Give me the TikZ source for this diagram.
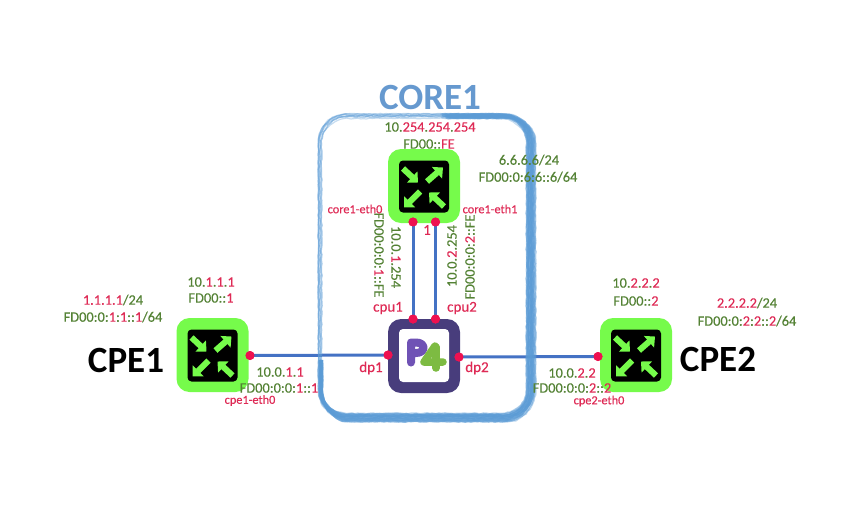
\documentclass[tikz,border=0pt]{standalone}
\usepackage{fontspec}
\setmainfont{Carlito}
\newfontfamily\lblfont[FakeBold=0.3]{Carlito}
\usetikzlibrary{arrows.meta,decorations.pathmorphing}
\definecolor{rgreen}{HTML}{76FB4B}
\definecolor{tgreen}{HTML}{548235}
\definecolor{tred}{HTML}{DE2A55}
\definecolor{dotred}{HTML}{EE1150}
\definecolor{linkblue}{HTML}{4472C4}
\definecolor{sketchblue}{HTML}{5B9BD5}
\definecolor{p4frame}{HTML}{483D7C}
\definecolor{p4purple}{HTML}{6F52B5}
\definecolor{p4green}{HTML}{7DBB42}
\definecolor{titleblue}{HTML}{6699CF}
\newcommand{\rd}[1]{\textcolor{tred}{#1}}
\tikzset{
  x=1pt,y=-1pt,
  routerbox/.style={draw=none,fill=rgreen,rounded corners=13pt,minimum width=72pt,minimum height=74pt,inner sep=0pt},
  blackbox/.style={draw=none,fill=black,rounded corners=4pt,minimum width=50pt,minimum height=52pt,inner sep=0pt},
  p4box/.style={draw=none,fill=p4frame,rounded corners=13pt,minimum width=72pt,minimum height=74pt,inner sep=0pt},
  p4inner/.style={draw=none,fill=white,rounded corners=4pt,minimum width=50pt,minimum height=53pt,inner sep=0pt},
  dotnode/.style={circle,fill=dotred,draw=none,minimum size=9pt,inner sep=0pt},
  link/.style={draw=linkblue,line width=3pt},
  addr/.style={text=tgreen,font=\lblfont\fontsize{14.4}{14}\selectfont,inner sep=0pt},
  ifname/.style={text=tred,font=\lblfont\fontsize{12.3}{12}\selectfont,inner sep=0pt},
  portname/.style={text=tred,font=\lblfont\fontsize{15}{14}\selectfont,inner sep=0pt},
  hostname/.style={text=black,font=\fontsize{37}{37}\selectfont\bfseries,inner sep=0pt},
  titlename/.style={text=titleblue,font=\fontsize{37}{37}\selectfont\bfseries,inner sep=0pt},
  rarrow/.style={draw=rgreen,fill=rgreen,line width=6pt,-{Triangle[length=8pt,width=15pt]}},
  sketch/.style={draw=sketchblue,decorate,decoration={random steps,segment length=3pt,amplitude=0.5pt}},
  rarrows/.pic={
    \draw[rarrow] (-21,-18) -- (-6,-4);
    \draw[rarrow] (3,-5) -- (19,-19);
    \draw[rarrow] (-4,5) -- (-20,21);
    \draw[rarrow] (20,20) -- (5,6);
  }
}
\begin{document}
\begin{tikzpicture}
\useasboundingbox (0,0) rectangle (866,507);
\pgfmathsetseed{17}
% routers and switch
\node[routerbox] (cpe1) at (212.5,355) {};
\node[blackbox] at (212.5,355.5) {};
\pic at (212.5,355.5) {rarrows};
\node[routerbox] (core) at (424,186) {};
\node[blackbox] at (424,186.5) {};
\pic at (424,186.5) {rarrows};
\node[routerbox] (cpe2) at (636,355) {};
\node[blackbox] at (636,355.5) {};
\pic at (636,355.5) {rarrows};
\node[p4box] (p4) at (424,356) {};
\node[p4inner] at (424,355.5) {};
% P4 logo
\draw[p4purple,line width=8pt,line cap=round,line join=round] (411,362.5) -- (411,342.5) -- (416,342.5) .. controls (426,342.5) and (426,353) .. (416,353) -- (412,353);
\draw[p4green,line width=7.5pt,line cap=round,line join=round] (435,346) -- (424,362) -- (443,362);
\draw[p4green,line width=7.5pt,line cap=round] (436,347) -- (436,368);
% ports
\node[dotnode] (c1) at (250,355.5) {};
\node[dotnode] (pl) at (388,355) {};
\node[dotnode] (pr) at (459,357) {};
\node[dotnode] (c2) at (598,356.5) {};
\node[dotnode] (ca) at (413,222) {};
\node[dotnode] (cb) at (435.5,222) {};
\node[dotnode] (pa) at (413,319) {};
\node[dotnode] (pb) at (435.5,319) {};
\draw[link] (c1.center) -- (pl.center);
\draw[link] (pr.center) -- (c2.center);
\draw[link] (ca.center) -- (pa.center);
\draw[link] (cb.center) -- (pb.center);
\node[dotnode] at (c1) {};
\node[dotnode] at (pl) {};
\node[dotnode] at (pr) {};
\node[dotnode] at (c2) {};
\node[dotnode] at (ca) {};
\node[dotnode] at (cb) {};
\node[dotnode] at (pa) {};
\node[dotnode] at (pb) {};
% hand-drawn frame: light loops all round
\foreach \l/\t/\r/\b/\w/\o in {
  318.5/115/530/417/1.5/.5, 320/114/531/418/1.3/.45, 318.5/117/528/416/1.5/.45,
  321.5/116/529/415/1.5/.55, 319/113.8/532/419/1.2/.35, 320.5/118.5/527/414/1.2/.35}
  \draw[sketch,line width=\w pt,opacity=\o]
    (\l+28,\t) -- (\r-28,\t) .. controls (\r-12,\t) and (\r,\t+12) .. (\r,\t+28)
    -- (\r,\b-28) .. controls (\r,\b-12) and (\r-12,\b) .. (\r-28,\b)
    -- (\l+28,\b) .. controls (\l+12,\b) and (\l,\b-12) .. (\l,\b-28)
    -- (\l,\t+28) .. controls (\l,\t+12) and (\l+12,\t) .. (\l+28,\t);
% heavier strokes down the right, along the bottom and over the top right
\foreach \dx/\dy/\w/\o in {0/0/3/.7, 1.5/1.5/3/.65, -1.5/-1.5/3/.7, 3.5/3/2.6/.55, .8/3.5/2.6/.6, -3/-3/2.6/.6, 2.5/-2/2.6/.6, -3.5/2/2.6/.55, 4.5/4/1.8/.4, -4.5/-4/1.8/.4}
  \draw[sketch,line width=\w pt,opacity=\o]
    (445+\dx,116+\dy*.5) -- (503+\dx,116+\dy*.5) .. controls (519+\dx,116+\dy*.5) and (531+\dx,128) .. (531+\dx,144)
    -- (531+\dx,389) .. controls (531+\dx,405) and (519+\dx,417.5+\dy) .. (503+\dx,417.5+\dy)
    -- (349,417.5+\dy) .. controls (333,417.5+\dy) and (321+\dx*.3,405) .. (321+\dx*.3,389) -- (321+\dx*.3,360);
% title and names
\node[titlename] (ttl) at (430,97) {CORE1};
\node[hostname] (n1) at (126,360) {CPE1};
\node[hostname] (n2) at (718,359) {CPE2};
% addresses
\node[addr] (a1) at (430,127) {10.\rd{254}.\rd{254}.\rd{254}};
\node[addr] (a2) at (429,144) {FD00::\rd{FE}};
\node[addr] (a3) at (529,160) {6.6.6.6/24};
\node[addr] (a4) at (528,177) {FD00:0:6:6::6/64};
\node[addr] (a5) at (211,282) {10.\rd{1}.\rd{1}.\rd{1}};
\node[addr] (a6) at (211,298) {FD00::\rd{1}};
\node[addr] (a7) at (113,300) {\rd{1.1.1.1}/24};
\node[addr] (a8) at (113,317) {FD00:0:\rd{1}:\rd{1}::\rd{1}/64};
\node[addr] (a9) at (636,283) {10.\rd{2}.\rd{2}.\rd{2}};
\node[addr] (a10) at (636,301) {FD00::\rd{2}};
\node[addr] (a11) at (747,303) {\rd{2.2.2.2}/24};
\node[addr] (a12) at (747,321) {FD00:0:\rd{2}:\rd{2}::\rd{2}/64};
\node[addr] (a13) at (280,372) {10.0.\rd{1}.\rd{1}};
\node[addr] (a14) at (279,388) {FD00:0:0:\rd{1}::\rd{1}};
\node[addr] (a15) at (572,373) {10.0.\rd{2}.\rd{2}};
\node[addr] (a16) at (572,388) {FD00:0:0:\rd{2}::\rd{2}};
\node[addr,rotate=-90] (a17) at (396,257) {10.0.\rd{1}.254};
\node[addr,rotate=-90] (a18) at (379,255) {FD00:0:0:\rd{1}::FE};
\node[addr,rotate=90] (a19) at (452,256) {10.0.\rd{2}.254};
\node[addr,rotate=90] (a20) at (470,257) {FD00:0:0:\rd{2}::FE};
% interfaces
\node[ifname] (i1) at (355,209) {core1-eth0};
\node[ifname] (i2) at (490,209) {core1-eth1};
\node[ifname] (i3) at (250,400.5) {cpe1-eth0};
\node[ifname] (i4) at (599,401) {cpe2-eth0};
\node[portname] (p1) at (388,308) {cpu1};
\node[portname] (p2) at (462,308) {cpu2};
\node[portname] (p3) at (371,368) {dp1};
\node[portname] (p5) at (477,368) {dp2};
\node[portname] (p6) at (427,230) {1};
\end{tikzpicture}
\end{document}
